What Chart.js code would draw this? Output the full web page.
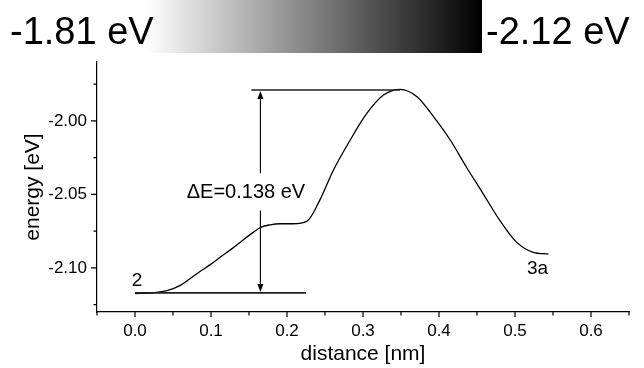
<!DOCTYPE html>
<html><head><meta charset="utf-8">
<script src="https://cdn.jsdelivr.net/npm/chart.js@4.4.1/dist/chart.umd.min.js"></script>
<style>
html,body{margin:0;padding:0;background:#fff;}
#wrap{position:relative;width:644px;height:368px;overflow:hidden;font-family:"Liberation Sans",Arial,sans-serif;}
#c{position:absolute;left:0;top:0;}
#grad{position:absolute;left:146px;top:0;width:336px;height:53px;background:linear-gradient(to right,#ffffff,#000000);}
.hl{position:absolute;font-size:38px;color:#000;line-height:1;white-space:nowrap;}
</style></head><body>
<div id="wrap">
<canvas id="c" width="644" height="368"></canvas>
<div id="grad"></div>
<div class="hl" style="left:10px;top:12px;">-1.81 eV</div>
<div class="hl" style="left:486px;top:12px;">-2.12 eV</div>
</div>
<script>
// ---- data ----
const distance = [0.000, 0.024, 0.042, 0.059, 0.072, 0.086, 0.099, 0.112, 0.129, 0.143, 0.156, 0.166, 0.178,
                  0.191, 0.208, 0.226, 0.243, 0.261, 0.283, 0.305, 0.327, 0.349, 0.371, 0.393, 0.415,
                  0.436, 0.458, 0.480, 0.502, 0.524, 0.544];
const energy   = [-2.1175, -2.1169, -2.1155, -2.1121, -2.1075, -2.1023, -2.0978, -2.0928, -2.0864, -2.0807, -2.0757, -2.0723, -2.0707,
                  -2.0700, -2.0700, -2.0684, -2.0541, -2.0336, -2.0132, -1.9950, -1.9825, -1.9786, -1.9836, -1.9973, -2.0132,
                  -2.0314, -2.0495, -2.0677, -2.0825, -2.0894, -2.0905];
const xMajorTicks = [0.0, 0.1, 0.2, 0.3, 0.4, 0.5, 0.6];
const xTickLabels = ['0.0', '0.1', '0.2', '0.3', '0.4', '0.5', '0.6'];
const xMinorTicks = [-0.05, 0.05, 0.15, 0.25, 0.35, 0.45, 0.55, 0.65];
const yMajorTicks = [-2.10, -2.05, -2.00];
const yTickLabels = ['-2.10', '-2.05', '-2.00'];
const yMinorTicks = [-2.125, -2.075, -2.025, -1.975];
const baseLevel = -2.117;           // state 2
const peakLevel = -1.979;           // barrier top  (difference 0.138 eV)
const baseSpan = [0.0, 0.225];
const peakSpan = [0.153, 0.349];
const arrowAt = 0.165;
const arrowGap = [-2.061, -2.0357];
const deltaText = '\u0394E=0.138 eV';
const deltaAnchor = [0.146, -2.0487];
const stateNames = ['2', '3a'];
const stateAnchors = [[0.0026, -2.1087], [0.5296, -2.1008]];

const FAM = '"Liberation Sans", Arial, sans-serif';

const annot = {
  id: 'annot',
  afterDraw(chart) {
    const {ctx, scales: {x, y}} = chart;
    const X = v => x.getPixelForValue(v), Y = v => y.getPixelForValue(v);
    const yb = y.bottom, xl = x.left;
    ctx.save();
    // tick marks
    ctx.strokeStyle = '#000'; ctx.lineWidth = 1.2;
    ctx.beginPath();
    xMajorTicks.forEach(v => { const p = X(v); ctx.moveTo(p, yb); ctx.lineTo(p, yb + 5); });
    xMinorTicks.forEach(v => { const p = X(v); ctx.moveTo(p, yb); ctx.lineTo(p, yb + 3.5); });
    yMajorTicks.forEach(v => { const p = Y(v); ctx.moveTo(xl, p); ctx.lineTo(xl - 6, p); });
    yMinorTicks.forEach(v => { const p = Y(v); ctx.moveTo(xl, p); ctx.lineTo(xl - 3.5, p); });
    ctx.stroke();
    // level lines
    ctx.strokeStyle = '#222'; ctx.lineWidth = 1.6;
    ctx.beginPath();
    ctx.moveTo(X(baseSpan[0]), Y(baseLevel)); ctx.lineTo(X(baseSpan[1]), Y(baseLevel));
    ctx.moveTo(X(peakSpan[0]), Y(peakLevel)); ctx.lineTo(X(peakSpan[1]), Y(peakLevel));
    ctx.stroke();
    // double arrow
    const ax = X(arrowAt), yt = Y(peakLevel), ybt = Y(baseLevel);
    ctx.strokeStyle = '#000'; ctx.lineWidth = 1.1;
    ctx.beginPath();
    ctx.moveTo(ax, yt + 6); ctx.lineTo(ax, Y(arrowGap[1]));
    ctx.moveTo(ax, Y(arrowGap[0])); ctx.lineTo(ax, ybt - 6);
    ctx.stroke();
    ctx.fillStyle = '#000';
    ctx.beginPath();
    ctx.moveTo(ax, yt + 1); ctx.lineTo(ax - 3, yt + 9); ctx.lineTo(ax + 3, yt + 9); ctx.closePath();
    ctx.moveTo(ax, ybt - 1); ctx.lineTo(ax - 3, ybt - 9); ctx.lineTo(ax + 3, ybt - 9); ctx.closePath();
    ctx.fill();
    // texts
    ctx.textAlign = 'center'; ctx.textBaseline = 'middle';
    ctx.font = '20px ' + FAM;
    ctx.fillText(deltaText, X(deltaAnchor[0]), Y(deltaAnchor[1]));
    ctx.font = '19px ' + FAM;
    stateNames.forEach((t, i) => ctx.fillText(t, X(stateAnchors[i][0]), Y(stateAnchors[i][1])));
    ctx.restore();
  }
};

new Chart(document.getElementById('c'), {
  type: 'line',
  data: {
    datasets: [{
      data: distance.map((d, i) => ({x: d, y: energy[i]})),
      borderColor: '#000', borderWidth: 1.3, pointRadius: 0,
      cubicInterpolationMode: 'monotone', fill: false
    }]
  },
  options: {
    responsive: false, animation: false, devicePixelRatio: 1,
    layout: {padding: {top: 62, right: 15, left: 0, bottom: 0}},
    plugins: {legend: {display: false}, tooltip: {enabled: false}},
    scales: {
      x: {
        type: 'linear', min: -0.05, max: 0.65,
        grid: {display: false, drawTicks: false},
        border: {display: true, color: '#000', width: 1.2},
        afterBuildTicks: s => { s.ticks = xMajorTicks.map(v => ({value: v})); },
        ticks: {padding: 9, color: '#000', font: {family: FAM, size: 17}, maxRotation: 0, autoSkip: false,
                callback: v => { const i = xMajorTicks.findIndex(t => Math.abs(t - v) < 1e-6); return i >= 0 ? xTickLabels[i] : ''; }},
        title: {display: true, text: 'distance [nm]', color: '#000', font: {family: FAM, size: 21}, padding: {top: 0, bottom: 1}},
        afterFit: s => { s.height = 56; }
      },
      y: {
        type: 'linear', min: -2.13, max: -1.96,
        grid: {display: false, drawTicks: false},
        border: {display: true, color: '#000', width: 1.2},
        afterBuildTicks: s => { s.ticks = yMajorTicks.map(v => ({value: v})); },
        ticks: {padding: 10, color: '#000', font: {family: FAM, size: 17}, autoSkip: false,
                callback: v => { const i = yMajorTicks.findIndex(t => Math.abs(t - v) < 1e-6); return i >= 0 ? yTickLabels[i] : ''; }},
        title: {display: true, text: 'energy [eV]', color: '#000', font: {family: FAM, size: 21}, padding: {top: 21, bottom: 0}},
        afterFit: s => { s.width = 97; }
      }
    }
  },
  plugins: [annot]
});
</script>
</body></html>
